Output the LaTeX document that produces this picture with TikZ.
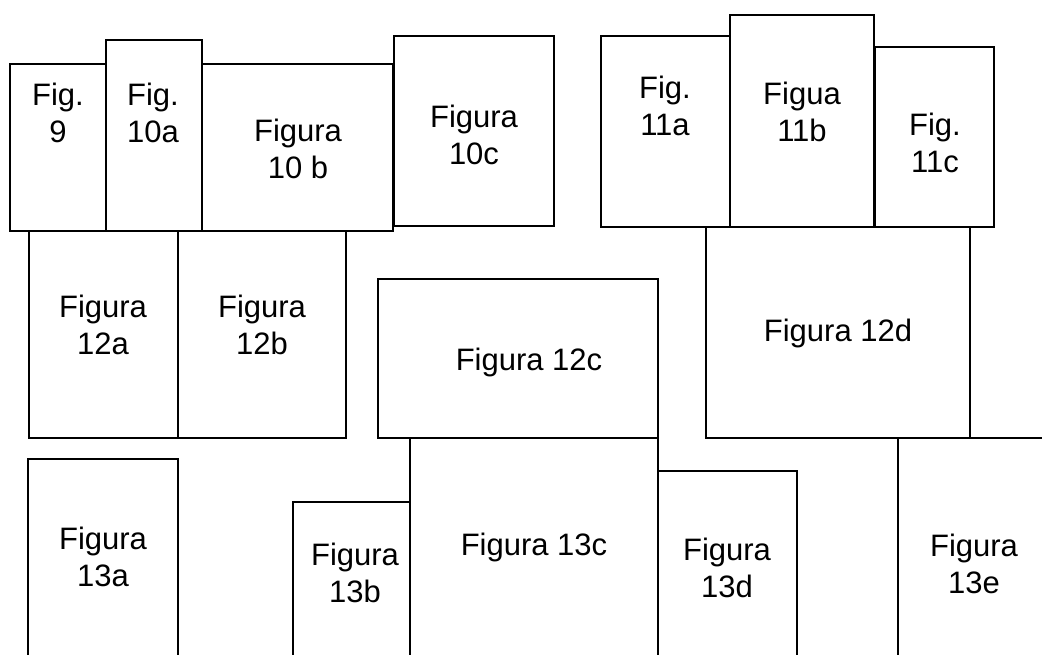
\documentclass[tikz,border=0pt]{standalone}
\usepackage{fontspec}
\setmainfont{Liberation Sans}
\begin{document}
\begin{tikzpicture}[x=1pt,y=-1pt,
  box/.style={draw=black,line width=1.8pt},
  lbl/.style={anchor=north,inner sep=0pt,align=center,text=black,
    font=\fontsize{31}{36.5}\selectfont}]
\useasboundingbox (0,0) rectangle (1042,655);
\clip (0,0) rectangle (1042,655);
% row 1
\draw[box] (10,64) rectangle (106,231);
\draw[box] (106,40) rectangle (202,231);
\draw[box] (202,64) rectangle (393,231);
\draw[box] (394,36) rectangle (554,226);
\draw[box] (601,36) rectangle (730,227);
\draw[box] (730,15) rectangle (874,227);
\draw[box] (875,47) rectangle (994,227);
% row 2
\draw[box] (29,231) rectangle (178,438);
\draw[box] (178,231) rectangle (346,438);
\draw[box] (378,279) rectangle (658,438);
\draw[box] (706,227) rectangle (970,438);
% row 3
\draw[box] (28,459) rectangle (178,680);
\draw[box] (293,502) rectangle (410,680);
\draw[box] (410,438) rectangle (658,680);
\draw[box] (658,471) rectangle (797,680);
\draw[box] (898,438) rectangle (1070,680);
% labels
\node[lbl] (t9)   at (58,83)  {Fig.\\9};
\node[lbl] (t10a) at (153,83) {Fig.\\10a};
\node[lbl] (t10b) at (298,119) {Figura\\10 b};
\node[lbl] (t10c) at (474,105) {Figura\\10c};
\node[lbl] (t11a) at (665,76) {Fig.\\11a};
\node[lbl] (t11b) at (802,82) {Figua\\11b};
\node[lbl] (t11c) at (935,113) {Fig.\\11c};
\node[lbl] (t12a) at (103,295) {Figura\\12a};
\node[lbl] (t12b) at (262,295) {Figura\\12b};
\node[lbl] (t12c) at (529,348) {Figura 12c};
\node[lbl] (t12d) at (838,319) {Figura 12d};
\node[lbl] (t13a) at (103,527) {Figura\\13a};
\node[lbl] (t13b) at (355,543) {Figura\\13b};
\node[lbl] (t13c) at (534,533) {Figura 13c};
\node[lbl] (t13d) at (727,538) {Figura\\13d};
\node[lbl] (t13e) at (974,534) {Figura\\13e};
\end{tikzpicture}
\end{document}
